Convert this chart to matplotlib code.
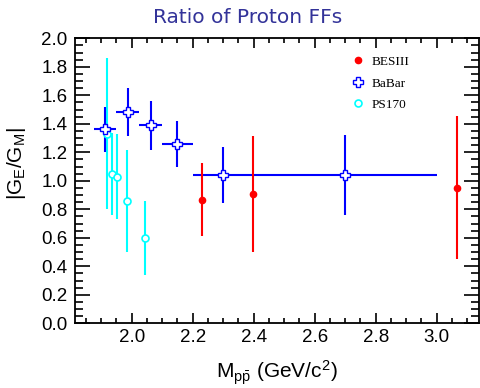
import numpy as np
import matplotlib
matplotlib.use("Agg")
import matplotlib.pyplot as plt
from matplotlib.ticker import MultipleLocator
from matplotlib.lines import Line2D

# BESIII
bes_m = [2.230, 2.399, 3.066]
bes_r = [0.867, 0.907, 0.952]
bes_err = [0.255, 0.405, 0.50]

# BaBar (bin edges -> centers/half widths)
babar_lo = [1.877, 1.950, 2.025, 2.100, 2.200, 2.400]
babar_hi = [1.950, 2.025, 2.100, 2.200, 2.400, 3.000]
babar_r = [1.361, 1.481, 1.389, 1.260, 1.041, 1.041]
babar_err = [0.16, 0.17, 0.17, 0.16, 0.195, 0.28]

# PS170
ps_m = [1.919, 1.936, 1.953, 1.984, 2.043]
ps_r = [1.331, 1.048, 1.029, 0.858, 0.596]
ps_err = [0.53, 0.29, 0.30, 0.36, 0.26]

xticks = [2.0, 2.2, 2.4, 2.6, 2.8, 3.0]
yticks = [0.0, 0.2, 0.4, 0.6, 0.8, 1.0, 1.2, 1.4, 1.6, 1.8, 2.0]

babar_lo = np.array(babar_lo)
babar_hi = np.array(babar_hi)
babar_m = (babar_lo + babar_hi) / 2
babar_xerr = (babar_hi - babar_lo) / 2

plt.rcParams['font.family'] = ['Liberation Sans', 'DejaVu Sans']
plt.rcParams['mathtext.fontset'] = 'custom'
plt.rcParams['mathtext.rm'] = 'Liberation Sans'
plt.rcParams['mathtext.it'] = 'Liberation Sans'

fig = plt.figure(figsize=(4.8, 3.88), dpi=100)
ax = fig.add_axes([0.1556, 0.1668, 0.8413, 0.7345])

ax.errorbar(ps_m, ps_r, yerr=ps_err, fmt='o', color='#00ffff', mfc='white',
            mec='#00ffff', ms=5, mew=1.2, elinewidth=1.5, capsize=0)
ax.errorbar(babar_m, babar_r, xerr=babar_xerr, yerr=babar_err, fmt='P', color='#0000ff',
            mfc='white', mec='#0000ff', ms=6.5, mew=1.0, elinewidth=1.5, capsize=0)
ax.errorbar(bes_m, bes_r, yerr=bes_err, fmt='o', color='#ff0000', ms=4.5,
            elinewidth=1.5, capsize=0)

ax.set_xlim(1.813, 3.137)
ax.set_ylim(0, 2.0)
ax.set_xticks(xticks)
ax.set_xticklabels([f'{v:.1f}' for v in xticks])
ax.set_yticks(yticks)
ax.set_yticklabels([f'{v:.1f}' for v in yticks])
ax.xaxis.set_minor_locator(MultipleLocator(0.05))
ax.yaxis.set_minor_locator(MultipleLocator(0.05))
ax.tick_params(axis='both', which='both', direction='in', top=True, right=True,
               labelsize=13.5, width=1.2, colors='black')
ax.tick_params(axis='x', which='major', length=7, pad=4)
ax.tick_params(axis='x', which='minor', length=3.5)
ax.tick_params(axis='y', which='major', length=11, pad=5)
ax.tick_params(axis='y', which='minor', length=6)
for s in ax.spines.values():
    s.set_linewidth(1.3)

ax.set_xlabel(r'M$_{\mathrm{p\bar{p}}}$ (GeV/c$^{\mathrm{2}}$)', fontsize=15)
ax.xaxis.set_label_coords(0.5, -0.125)
ax.xaxis.label.set_verticalalignment('top')
ax.set_ylabel(r'|G$_{\mathrm{E}}$/G$_{\mathrm{M}}$|', fontsize=15)
ax.yaxis.set_label_coords(-0.143, 0.56)
ax.yaxis.label.set_verticalalignment('center')

fig.text(0.515, 0.955, 'Ratio of Proton FFs', ha='center', va='center',
         fontsize=14.5, color='#333399', family='DejaVu Sans')

handles = [
    Line2D([], [], ls='none', marker='o', color='#ff0000', ms=4.5),
    Line2D([], [], ls='none', marker='P', mfc='white', mec='#0000ff', ms=6.5, mew=1.0),
    Line2D([], [], ls='none', marker='o', mfc='white', mec='#00ffff', ms=5, mew=1.2),
]
ax.legend(handles, ['BESIII', 'BaBar', 'PS170'], loc='upper left', bbox_to_anchor=(0.66, 0.98),
          frameon=False, prop={'family': 'Liberation Serif', 'size': 9.5},
          handlelength=0.8, handletextpad=0.6, labelspacing=0.7)

fig.savefig('out.png', dpi=100)
